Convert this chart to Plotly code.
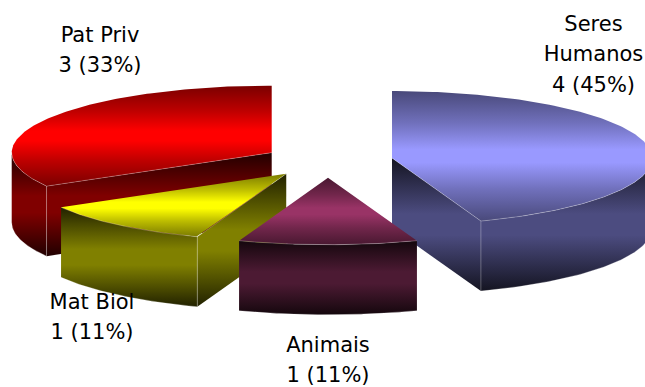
import numpy as np
import plotly.graph_objects as go

# Chart data, clockwise from twelve o'clock
categories = ["Seres Humanos", "Animais", "Mat Biol", "Pat Priv"]
values = [4, 1, 1, 3]
percents = [45, 11, 11, 33]
base_colors = [(153, 153, 255), (153, 51, 102), (255, 255, 0), (255, 0, 0)]

# Wrapped label lines: (centre x, first line centre y, lines)
label_lines = [
    (593.5, 25.5, ["Seres", "Humanos"]),
    (328, 346.5, ["Animais"]),
    (92, 303.5, ["Mat Biol"]),
    (100, 36.5, ["Pat Priv"]),
]

W, H = 645, 387
CX, CY = 328, 161      # pie centre before exploding
RX, RY = 260, 67       # ellipse radii of the tilted disc
DEPTH = 70             # extrusion height
EXPLODE = 0.25         # radial offset as a share of the radius
LINE_STEP = 30.7


def shade(rgb, k):
    return "rgb({},{},{})".format(*[int(round(c * k)) for c in rgb])


def gradient(rgb, stops):
    return dict(type="vertical", colorscale=[[p, shade(rgb, k)] for p, k in stops])


# Brightness profiles: top surfaces peak mid-way, walls hold a soft plateau
TOP_STOPS = [(0, 0.48), (0.25, 0.74), (0.45, 1.0), (0.55, 1.0), (0.75, 0.74), (1, 0.48)]
WALL_STOPS = [(0, 0.13), (0.42, 0.5), (0.58, 0.5), (1, 0.13)]


def polar(deg, ox, oy, dy=0.0):
    t = np.radians(deg)
    return ox + RX * np.sin(t), oy - RY * np.cos(t) + dy


def face(xs, ys, grad):
    return go.Scatter(
        x=np.r_[xs, xs[0]], y=np.r_[ys, ys[0]], mode="lines", fill="toself",
        line=dict(width=0), fillgradient=grad, hoverinfo="skip", showlegend=False,
    )


def edge(xs, ys):
    return go.Scatter(
        x=xs, y=ys, mode="lines", line=dict(color="rgba(255,255,255,0.25)", width=1),
        hoverinfo="skip", showlegend=False,
    )


fig = go.Figure()

total = sum(values)
slices = []
start = 0.0
for name, v, rgb in zip(categories, values, base_colors):
    end = start + 360.0 * v / total
    slices.append((start, end, rgb))
    start = end

# Paint back to front: left-rear slice, right slice, then the two front ones
for idx in [3, 0, 2, 1]:
    a0, a1, rgb = slices[idx]
    mid = np.radians((a0 + a1) / 2)
    ox = CX + EXPLODE * RX * np.sin(mid)
    oy = CY - EXPLODE * RY * np.cos(mid)
    side = gradient(rgb, WALL_STOPS)
    lines = []

    # Cut faces turned towards the viewer
    for a, visible in ((a0, np.sin(np.radians(a0)) < -1e-6), (a1, np.sin(np.radians(a1)) > 1e-6)):
        if visible:
            px, py = polar(a, ox, oy)
            fig.add_trace(face(np.array([ox, px, px, ox]),
                               np.array([oy, py, py + DEPTH, oy + DEPTH]), side))
            lines.append(([ox, px], [oy, py]))
            lines.append(([px, px], [py, py + DEPTH]))

    # Outer wall: only the part of the rim on the near half of the ellipse
    lo, hi = max(a0, 90.0), min(a1, 270.0)
    if hi > lo:
        arc = np.linspace(lo, hi, 80)
        tx, ty = polar(arc, ox, oy)
        wall_x = np.r_[tx, tx[::-1]]
        wall_y = np.r_[ty, ty[::-1] + DEPTH]
        fig.add_trace(face(wall_x, wall_y, side))
        lines.append((tx, ty))
        lines.append((tx, ty + DEPTH))

    # Top surface
    arc = np.linspace(a0, a1, 160)
    tx, ty = polar(arc, ox, oy)
    fig.add_trace(face(np.r_[ox, tx], np.r_[oy, ty], gradient(rgb, TOP_STOPS)))

    for lx, ly in lines:
        fig.add_trace(edge(np.asarray(lx), np.asarray(ly)))

# Category and value labels
tx, ty, tt = [], [], []
for (lx, ly, words), v, p in zip(label_lines, values, percents):
    rows = words + [f"{v} ({p}%)"]
    for i, row in enumerate(rows):
        tx.append(lx)
        ty.append(ly + i * LINE_STEP)
        tt.append(row)
fig.add_trace(go.Scatter(
    x=tx, y=ty, text=tt, mode="text", textposition="middle center",
    textfont=dict(family="DejaVu Sans", size=21, color="black"),
    hoverinfo="skip", showlegend=False, cliponaxis=False,
))

fig.update_layout(
    width=W, height=H, margin=dict(l=0, r=0, t=0, b=0),
    paper_bgcolor="white", plot_bgcolor="white", showlegend=False,
    xaxis=dict(range=[0, W], visible=False, fixedrange=True),
    yaxis=dict(range=[H, 0], visible=False, fixedrange=True),
)
fig.write_html("out.html", config=dict(displayModeBar=False))
